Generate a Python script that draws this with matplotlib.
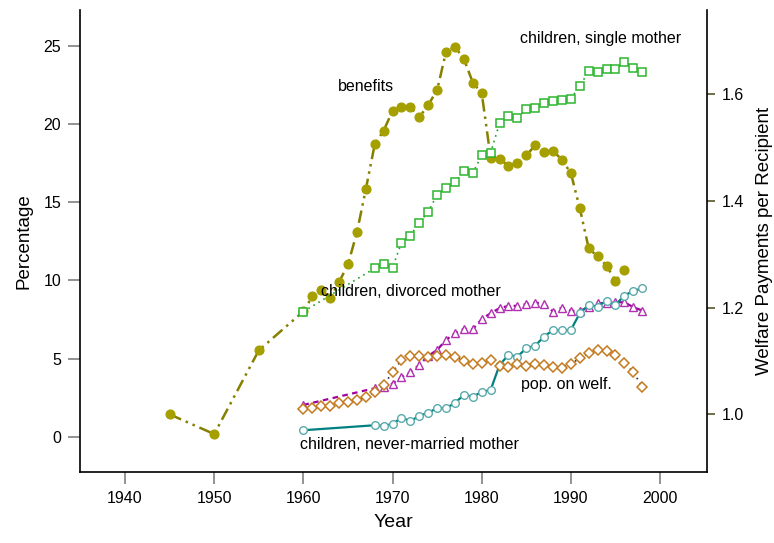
import matplotlib
matplotlib.use("Agg")
import matplotlib.pyplot as plt

plt.rcParams["font.family"] = ["Liberation Sans", "DejaVu Sans"]

# Welfare payments per recipient (right axis)
benefit_years = [1945, 1950, 1955] + list(range(1960, 1997))
benefits = [1.000, 0.963, 1.120,
            1.193, 1.221, 1.234, 1.218, 1.248, 1.281, 1.341, 1.422, 1.506, 1.532,
            1.569, 1.576, 1.576, 1.557, 1.580, 1.608, 1.680, 1.689, 1.666, 1.622,
            1.602, 1.481, 1.479, 1.466, 1.471, 1.486, 1.504, 1.492, 1.494, 1.477,
            1.452, 1.386, 1.311, 1.296, 1.279, 1.250, 1.271]

# Percentages (left axis)
child_years = [1960] + list(range(1968, 1999))
single_mother = [8.00,
                 10.78, 11.04, 10.82, 12.42, 12.87, 13.68, 14.40, 15.47, 15.88, 16.31,
                 16.97, 16.88, 17.99, 18.16, 20.06, 20.49, 20.38, 20.96, 21.02, 21.38,
                 21.45, 21.56, 21.62, 22.45, 23.37, 23.33, 23.54, 23.50, 23.97, 23.62,
                 23.33]
divorced_mother = [2.03,
                   3.10, 3.20, 3.40, 3.80, 4.12, 4.59, 5.17, 5.55, 6.19, 6.62,
                   6.90, 6.88, 7.52, 7.90, 8.22, 8.37, 8.37, 8.48, 8.58, 8.50,
                   8.00, 8.26, 8.05, 8.05, 8.28, 8.54, 8.54, 8.60, 8.60, 8.28,
                   8.07]
never_married = [0.41,
                 0.73, 0.69, 0.81, 1.22, 0.99, 1.34, 1.52, 1.84, 1.82, 2.16,
                 2.67, 2.56, 2.86, 2.99, 4.59, 5.23, 5.12, 5.66, 5.83, 6.40,
                 6.83, 6.81, 6.83, 7.90, 8.43, 8.32, 8.71, 8.43, 9.03, 9.33,
                 9.48]

pop_years = list(range(1960, 1999))
pop_on_welfare = [1.75, 1.82, 1.98, 1.98, 2.14, 2.24, 2.35, 2.52, 2.84, 3.31,
                  4.12, 4.91, 5.19, 5.19, 5.12, 5.19, 5.23, 5.12, 4.85, 4.65,
                  4.74, 4.91, 4.53, 4.48, 4.65, 4.53, 4.65, 4.59, 4.48, 4.42,
                  4.65, 5.02, 5.34, 5.55, 5.51, 5.23, 4.70, 4.12, 3.20]

fig = plt.figure(figsize=(7.74, 5.43), dpi=100)
ax = fig.add_axes([0.1034, 0.1308, 0.810, 0.8508])
ax2 = ax.twinx()
# percentage series drawn on top of the benefits curve
ax.set_zorder(ax2.get_zorder() + 1)
ax.patch.set_visible(False)

ax.set_xlim(1934.95, 2005.26)
ax.set_ylim(-2.26, 27.3)
ax2.set_ylim(0.892, 1.758)

ax.plot(child_years, single_mother, color="#22a022", lw=1.2, ls=(0, (1, 2.5)),
        marker="s", ms=5.8, mfc="white", mec="#2db52d", mew=1.1, zorder=3)
ax.plot(child_years, divorced_mother, color="#a000a0", lw=1.6, ls=(0, (2.5, 2)),
        marker="^", ms=5.5, mfc="white", mec="#b030b0", mew=1.0, zorder=3)
ax.plot(child_years, never_married, color="#008080", lw=1.6, ls="-",
        marker="o", ms=5.5, mfc="white", mec="#5aaaaa", mew=1.0, zorder=3)
ax.plot(pop_years, pop_on_welfare, color="#333333", lw=1.2, ls=(0, (1, 2.5)),
        marker="D", ms=4.6, mfc="white", mec="#c47a1e", mew=1.1, zorder=4)

ax2.plot(benefit_years, benefits, color="#868000", lw=1.8, ls=(0, (5, 2, 1, 2, 1, 2)),
         marker="o", ms=6.3, mfc="#a69f00", mec="#a69f00", zorder=3)

txt = dict(fontsize=11.5, ha="center", va="center", color="black")
ax.text(1967.0, 22.4, "benefits", **txt)
ax.text(1993.3, 25.5, "children, single mother", **txt)
ax.text(1972.0, 9.26, "children, divorced mother", **txt)
ax.text(1989.5, 3.31, "pop. on welf.", **txt)
ax.text(1971.9, -0.47, "children, never-married mother", **txt)

ax.set_xticks([1940, 1950, 1960, 1970, 1980, 1990, 2000])
ax.set_yticks([0, 5, 10, 15, 20, 25])
ax2.set_yticks([1.0, 1.2, 1.4, 1.6])
ax2.set_yticklabels(["1.0", "1.2", "1.4", "1.6"])

ax.tick_params(axis="both", direction="out", length=8.5, width=1.2, color="#808080",
               labelsize=11.5, pad=5)
ax2.tick_params(axis="y", direction="out", length=6, width=1.2, color="#55552e",
                labelsize=11.5, pad=5)

for a in (ax, ax2):
    a.spines["top"].set_visible(False)
ax.spines["right"].set_visible(False)
ax2.spines["left"].set_visible(False)
ax2.spines["bottom"].set_visible(False)
ax2.spines["right"].set_linewidth(1.2)
ax.spines["left"].set_linewidth(1.2)
ax.spines["bottom"].set_linewidth(1.2)

ax.set_xlabel("Year", fontsize=14, labelpad=6)
ax.set_ylabel("Percentage", fontsize=13.5, labelpad=8)
ax2.set_ylabel("Welfare Payments per Recipient", fontsize=13.5, labelpad=8)

fig.savefig("out.png", dpi=100)
